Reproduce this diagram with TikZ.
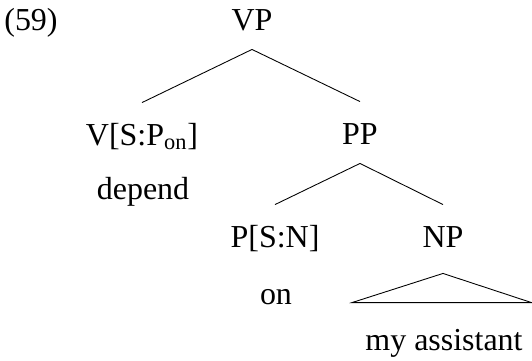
\documentclass[tikz,border=0pt]{standalone}
\usepackage{fontspec}
\setmainfont{Liberation Serif}
\tikzset{
  cat/.style={inner sep=0pt, anchor=base, text height=0.84cm, text depth=0.38cm},
  leaf/.style={inner sep=0pt, anchor=base}
}

\begin{document}
\begin{tikzpicture}[x=0.02cm, y=-0.02cm, line width=0.5pt,
  every node/.style={font=\fontsize{18.2}{22}\selectfont}]
\useasboundingbox (0,0) rectangle (532,360);
\node[leaf] (ex) at (31,30) {(59)};
\node[cat] (vp) at (252,30) {VP};
\node[cat] (v) at (142,145) {V[S:P\textsubscript{on}]};
\node[leaf] (dep) at (143,199) {depend};
\node[cat] (pp) at (360,144) {PP};
\node[cat] (p) at (275,247) {P[S:N]};
\node[cat, text depth=0.52cm] (np) at (443,247) {NP};
\node[leaf] (on) at (276,304) {on};
\node[leaf, text height=0.94cm] (asst) at (444,350) {my assistant};
\draw (vp.south) -- (v.north);
\draw (vp.south) -- (pp.north);
\draw (pp.south) -- (p.north);
\draw (pp.south) -- (np.north);
\draw (np.south) -- ([xshift=-1.84cm]asst.north) -- ([xshift=1.75cm]asst.north) -- cycle;
\end{tikzpicture}
\end{document}
